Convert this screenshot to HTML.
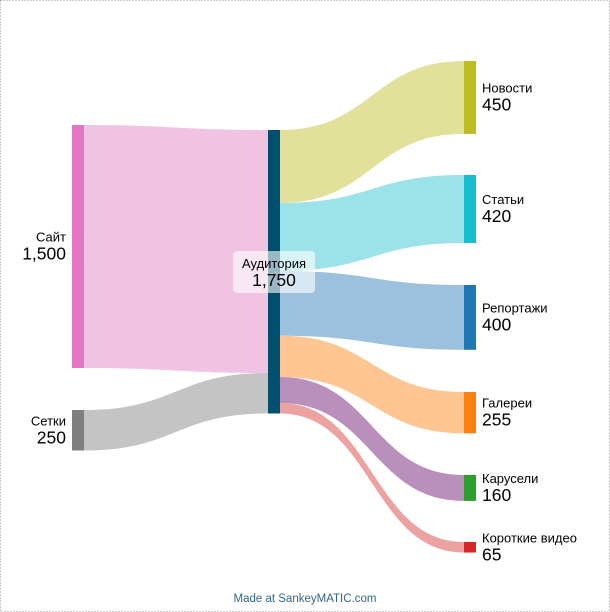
<!DOCTYPE html>
<html><head><meta charset="utf-8"><style>
html,body{margin:0;padding:0;background:#fff;}
svg{display:block;font-family:"Liberation Sans",Arial,sans-serif;}
</style></head><body>
<svg id="c" width="610" height="612" viewBox="0 0 610 612">
<rect x="0.5" y="0.5" width="609" height="611" fill="#fff" stroke="#999" stroke-dasharray="1,2"/>
<g id="flows"></g><g id="nodes"></g><g id="labels"></g>
<text x="305" y="602" text-anchor="middle" font-size="11.5" fill="#336688">Made at SankeyMATIC.com</text>
</svg>
<script>
const sources=["Сайт","Сетки"];
const sourceValues=[1500,250];
const midName="Аудитория";
const targets=["Новости","Статьи","Репортажи","Галереи","Карусели","Короткие видео"];
const targetValues=[450,420,400,255,160,65];

const ns="http://www.w3.org/2000/svg";
const scale=243/1500;
const fmt=v=>v.toLocaleString("en-US");
const srcNode=["#e377c2","#7f7f7f"],srcFlow=["#f0c3e3","#c4c4c4"];
const tgtNode=["#bcbd22","#17becf","#1f77b4","#ff7f0e","#2ca02c","#d62728"];
const tgtFlow=["#e1e19c","#9be3e9","#9dc1dc","#ffc592","#b98fbc","#eca2a0"];
const srcTop=[125,410],tgtTop=[61,175,285,392,475,542];
const xL=72,xM=268,xR=464,nw=12,midTop=130;
function el(tag,a,parent){const e=document.createElementNS(ns,tag);for(const k in a)e.setAttribute(k,a[k]);document.getElementById(parent).appendChild(e);return e;}
function flow(x0,y0,x1,y1,h,col,name){
  const m=(x0+x1)/2;
  const d=`M${x0},${y0}C${m},${y0} ${m},${y1} ${x1},${y1}L${x1},${y1+h}C${m},${y1+h} ${m},${y0+h} ${x0},${y0+h}Z`;
  const p=el("path",{d:d,fill:col},"flows");
  
  
}
function label(x,y,name,val,anchor,dn){
  const t=el("text",{x:x,y:y,"font-size":13,fill:"#000","text-anchor":anchor},"labels");
  t.textContent=name;
  
  
  const v=el("text",{x:x,y:y+18,"font-size":17.5,fill:"#000","text-anchor":anchor},"labels");
  v.textContent=fmt(val);
  
  
}
let total=0,yIn=midTop;
sources.forEach((s,i)=>{
  const h=sourceValues[i]*scale;total+=sourceValues[i];
  flow(xL+nw,srcTop[i],xM,yIn,h,srcFlow[i],'flow-source-'+i);yIn+=h;
  const r=el("rect",{x:xL,y:srcTop[i],width:nw,height:h,fill:srcNode[i]},"nodes");
  
  
  label(xL-6,srcTop[i]+h/2-5,s,sourceValues[i],"end",'source-'+i);
});
let yOut=midTop;
targets.forEach((s,i)=>{
  const h=targetValues[i]*scale;
  flow(xM+nw,yOut,xR,tgtTop[i],h,tgtFlow[i],'flow-target-'+i);yOut+=h;
  const r=el("rect",{x:xR,y:tgtTop[i],width:nw,height:h,fill:tgtNode[i]},"nodes");
  
  
  label(xR+nw+6,tgtTop[i]+h/2-5,s,targetValues[i],"start",'target-'+i);
});
const mh=total*scale;
const mr=el("rect",{x:xM,y:midTop,width:nw,height:mh,fill:"#004f6f"},"nodes");


const bg=el("rect",{x:233,y:251,width:82,height:42,rx:4,fill:"#fff","fill-opacity":0.6},"labels");


label(xM+nw/2,midTop+mh/2-4,midName,total,"middle",'audience');
</script>
</body></html>
